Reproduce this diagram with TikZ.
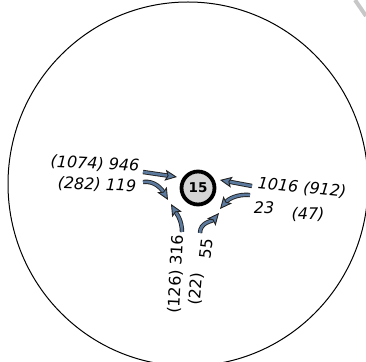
\documentclass[tikz,border=0pt]{standalone}
\usepackage{fontspec}
\setmainfont{DejaVu Sans}
\usetikzlibrary{arrows.meta}
\definecolor{flowfill}{RGB}{91,122,158}
\definecolor{flowline}{RGB}{34,34,34}
\definecolor{hubfill}{RGB}{212,212,212}

\begin{document}
\begin{tikzpicture}[x=1pt, y=1pt,
    hub/.style={circle, draw, line width=3.8pt, fill=hubfill, minimum size=33pt, inner sep=0pt, font=\fontsize{13.5}{14}\selectfont\bfseries},
    lab/.style={inner sep=0pt, font=\fontsize{16}{18}\selectfont\itshape},
    vlab/.style={inner sep=0pt, font=\fontsize{16}{18}\selectfont},
    flow/.style={draw=flowline, line width=0.9pt, double=flowfill, double distance=2.6pt,
      -{Stealth[length=12pt, width=11pt, inset=2.5pt, fill=flowfill]}}
  ]
  \useasboundingbox (0,0) rectangle (366,361);

  % Boundary
  \draw[line width=1pt] (188,177) ellipse [x radius=180, y radius=182];
  \draw[line width=4pt, black!22] (355,361) -- (366,345);

  % Hub
  \node[hub] (hub) at (198,173) {15};

  % Labels
  \node[lab, rotate=-3] (l946) at (95,197) {(1074) 946};
  \node[lab, rotate=-2] (l119) at (97,176) {(282) 119};
  \node[lab, rotate=-6] (l1016) at (302,173) {1016 (912)};
  \node[lab] (l23) at (264,153) {23};
  \node[lab] (l47) at (308,147) {(47)};
  \node[vlab, rotate=87] (l316) at (176,87) {(126) 316};
  \node[vlab, rotate=83] (l55) at (206,112) {55};
  \node[vlab, rotate=85] (l22) at (196,72) {(22)};

  % Arrow ends
  \coordinate (s946) at (143,189);  \coordinate (t946) at (177,184);
  \coordinate (s119) at (143,179);  \coordinate (t119) at (168,161);
  \coordinate (s1016) at (252,175); \coordinate (t1016) at (220,181);
  \coordinate (s23) at (250,166);   \coordinate (t23) at (220,152);
  \coordinate (s316) at (182,129);  \coordinate (t316) at (171,157);
  \coordinate (s55) at (200,128);   \coordinate (t55) at (219,148);

  % Arrows
  \draw[flow] (s946) -- (t946);
  \draw[flow] (s119) to[out=8, in=120] (t119);
  \draw[flow] (s1016) -- (t1016);
  \draw[flow] (s23) to[out=175, in=50] (t23);
  \draw[flow] (s316) to[out=90, in=-60] (t316);
  \draw[flow] (s55) to[out=90, in=-130] (t55);
\end{tikzpicture}
\end{document}
